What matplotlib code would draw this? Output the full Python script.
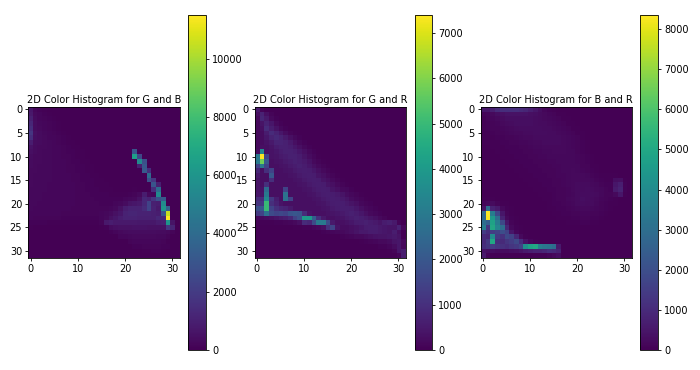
import matplotlib
matplotlib.use("Agg")
import matplotlib.pyplot as plt
import numpy as np

BINS = 32
TITLES = [
    "2D Color Histogram for G and B",
    "2D Color Histogram for G and R",
    "2D Color Histogram for B and R",
]

# diffuse part of each histogram: row -> (first column, counts)
GB_WASH = {
    0: (0, [700, 200, 120, 60]),
    1: (0, [800, 300, 180, 120, 60]),
    2: (0, [1000, 350, 220, 150, 100, 50]),
    3: (0, [1300, 400, 250, 200, 150, 90, 50]),
    4: (0, [1500, 400, 300, 220, 170, 120, 80, 40]),
    5: (0, [1800, 450, 320, 260, 200, 160, 110, 70, 40]),
    6: (0, [1500, 420, 330, 280, 220, 180, 140, 90, 60, 30]),
    7: (0, [900, 380, 320, 280, 240, 200, 160, 120, 80, 50, 30]),
    8: (0, [550, 340, 300, 270, 240, 210, 180, 150, 110, 80, 50, 30]),
    9: (0, [450, 320, 290, 260, 240, 220, 190, 160, 130, 100, 70, 50, 30]),
    10: (0, [400, 300, 280, 260, 240, 220, 200, 170, 140, 110, 80, 60, 40, 30]),
    11: (0, [350, 290, 270, 250, 240, 220, 200, 180, 150, 120, 100, 70, 50, 30]),
    12: (0, [330, 280, 260, 250, 240, 220, 200, 190, 170, 140, 110, 90, 70, 50, 30]),
    13: (0, [300, 270, 260, 250, 230, 220, 210, 190, 170, 150, 130, 100, 80, 60, 40, 30]),
    14: (0, [290, 260, 250, 240, 230, 220, 210, 200, 180, 160, 140, 120, 100, 80, 60, 40, 30]),
    15: (0, [280, 250, 240, 240, 230, 220, 210, 200, 190, 170, 150, 130, 110, 90, 70, 50, 40, 30]),
    16: (0, [270, 250, 240, 230, 220, 220, 210, 200, 190, 180, 160, 140, 120, 100, 80, 70, 50, 40, 30]),
    17: (0, [260, 240, 240, 230, 220, 210, 210, 200, 190, 180, 170, 150, 130, 110, 100, 80, 70, 60, 40, 30, 30, 40, 70]),
    18: (0, [260, 240, 230, 220, 220, 210, 200, 200, 190, 180, 170, 160, 140, 130, 110, 100, 90, 80, 60, 50, 60, 90, 150, 300, 900, 300, 200]),
    19: (0, [250, 230, 230, 220, 210, 210, 200, 200, 190, 180, 170, 160, 150, 140, 130, 120, 110, 100, 90, 120, 200, 250, 300, 500, 1300, 1100, 1800, 700]),
    20: (0, [250, 230, 220, 220, 210, 200, 200, 190, 180, 180, 170, 160, 150, 140, 140, 130, 120, 130, 180, 250, 400, 600, 700, 800, 1300, 2300, 1000, 900]),
    21: (0, [240, 220, 220, 210, 210, 200, 190, 190, 180, 170, 170, 160, 150, 150, 140, 140, 170, 220, 300, 500, 900, 1100, 1100, 1100, 1400, 2300, 1100, 800]),
    22: (0, [220, 210, 200, 200, 190, 190, 180, 170, 160, 160, 150, 150, 150, 140, 150, 180, 250, 350, 500, 700, 1100, 1200, 1200, 1100, 1100, 1100, 1000, 900, 700]),
    23: (0, [180, 170, 170, 160, 150, 150, 140, 130, 130, 120, 120, 120, 120, 120, 130, 180, 300, 500, 700, 900, 1100, 1100, 1100, 1000, 1000, 1000, 1000, 1300, 1300]),
    24: (0, [100, 100, 90, 90, 80, 80, 70, 70, 60, 60, 60, 60, 60, 60, 80, 150, 800, 900, 800, 800, 800, 800, 800, 750, 750, 750, 750, 900, 1000, 0, 600]),
    25: (0, [50, 40, 40, 30, 30, 30, 30, 30, 30, 30, 30, 30, 30, 30, 40, 80, 120, 400, 450, 500, 500, 500, 550, 550, 550, 500, 500, 500, 500, 1300, 500]),
    26: (17, [120, 200, 300, 350, 400, 400, 400, 400, 400, 380, 350, 350, 300, 150]),
    27: (19, [180, 220, 260, 280, 300, 300, 300, 280, 260, 240, 150]),
    28: (21, [150, 180, 200, 220, 220, 220, 200, 150, 80]),
    29: (22, [100, 120, 140, 160, 160, 140, 120, 100]),
    30: (24, [60, 80, 100, 100, 80]),
}
GB_HOT_ROWS = [9, 10, 10, 11, 11, 12, 12, 13, 13, 14, 15, 15, 16, 16, 17, 17, 18, 19, 19, 20, 21, 22, 21, 22, 23, 24, 25, 25]
GB_HOT_COLS = [22, 22, 23, 23, 24, 24, 23, 24, 25, 25, 25, 26, 26, 27, 26, 27, 27, 27, 28, 28, 28, 28, 29, 29, 29, 29, 29, 30]
GB_HOT_VALUES = [3000, 6500, 2500, 5500, 2800, 3100, 1000, 3200, 1500, 4000, 2800, 1800, 3000, 1000, 1500, 4000, 5500, 2800, 3200, 5500, 6000, 3000, 3500, 10500, 11500, 6000, 1800, 1200]

GR_WASH = {
    0: (0, [500, 100]),
    1: (0, [300, 700, 300, 100]),
    2: (0, [200, 800, 500, 200, 80]),
    3: (0, [150, 400, 700, 450, 200, 80]),
    4: (0, [150, 300, 900, 600, 350, 150, 60]),
    5: (0, [150, 250, 550, 900, 700, 450, 250, 100, 50]),
    6: (0, [150, 250, 450, 700, 850, 700, 500, 300, 150, 60]),
    7: (0, [200, 250, 350, 500, 750, 750, 650, 500, 300, 150, 60]),
    8: (0, [200, 300, 300, 400, 550, 650, 650, 600, 450, 300, 150, 60]),
    9: (0, [250, 300, 300, 350, 450, 550, 650, 650, 600, 450, 300, 150, 60]),
    10: (0, [300, 300, 300, 350, 400, 500, 550, 650, 650, 550, 400, 250, 120, 50]),
    11: (0, [350, 300, 300, 300, 350, 400, 500, 550, 650, 600, 500, 350, 200, 100, 50]),
    12: (0, [350, 300, 300, 300, 300, 350, 400, 500, 550, 650, 550, 450, 300, 200, 100, 50]),
    13: (0, [400, 300, 300, 300, 300, 300, 350, 400, 500, 550, 600, 550, 450, 300, 200, 100, 50]),
    14: (0, [500, 300, 300, 300, 300, 300, 300, 350, 400, 500, 550, 600, 550, 400, 300, 200, 100, 50]),
    15: (0, [400, 300, 300, 300, 300, 300, 300, 300, 350, 400, 500, 550, 600, 550, 400, 300, 200, 100, 50]),
    16: (0, [400, 300, 300, 300, 300, 300, 300, 300, 300, 350, 400, 500, 550, 600, 550, 400, 300, 200, 100, 50]),
    17: (0, [400, 350, 300, 300, 300, 300, 300, 300, 300, 300, 350, 400, 500, 550, 600, 550, 400, 300, 200, 150, 60]),
    18: (0, [450, 400, 350, 300, 300, 300, 300, 300, 300, 300, 300, 350, 400, 500, 550, 600, 550, 500, 400, 250, 150, 100, 50]),
    19: (0, [900, 900, 400, 1200, 600, 300, 300, 300, 300, 300, 300, 300, 350, 400, 500, 550, 600, 550, 500, 400, 250, 150, 100, 50]),
    20: (0, [1100, 1200, 500, 1000, 700, 400, 300, 300, 300, 300, 300, 300, 300, 350, 400, 500, 550, 600, 600, 500, 400, 300, 150, 100, 60]),
    21: (0, [1800, 2000, 600, 1500, 1000, 800, 700, 500, 300, 300, 300, 300, 300, 300, 350, 400, 500, 550, 600, 600, 550, 450, 300, 200, 120, 70]),
    22: (0, [1300, 1500, 2700, 1700, 1500, 1600, 1500, 1900, 2000, 1900, 900, 400, 300, 300, 300, 350, 400, 450, 500, 600, 650, 550, 450, 300, 200, 120, 70]),
    23: (0, [150, 200, 250, 300, 400, 500, 600, 800, 1400, 1800, 4000, 4000, 2200, 1000, 500, 300, 300, 350, 400, 500, 550, 650, 600, 500, 400, 300, 200, 100]),
    24: (0, [30, 30, 40, 50, 60, 80, 100, 120, 200, 300, 900, 800, 1700, 3000, 3000, 1600, 500, 300, 300, 350, 450, 550, 600, 650, 550, 500, 400, 550, 650, 500, 100]),
    25: (8, [40, 50, 60, 80, 120, 200, 300, 1000, 1500, 400, 250, 250, 300, 350, 450, 550, 600, 600, 500, 450, 400, 400, 700, 200]),
    26: (14, [80, 100, 120, 150, 200, 250, 300, 400, 500, 500, 550, 550, 500, 450, 400, 600, 300]),
    27: (18, [70, 100, 120, 180, 200, 250, 300, 350, 400, 400, 450, 500, 400]),
    28: (22, [50, 80, 100, 120, 180, 200, 250, 400, 450, 200]),
    29: (26, [60, 80, 120, 250, 450, 150]),
    30: (28, [50, 100, 450, 600]),
    31: (30, [100, 600]),
}
GR_HOT_ROWS = [9, 10, 10, 10, 11, 11, 11, 12, 12, 12, 13, 13, 13, 14, 15, 16, 17, 18, 19, 20, 21, 17, 18, 19, 19]
GR_HOT_COLS = [1, 0, 1, 2, 0, 1, 2, 0, 1, 2, 3, 2, 0, 3, 3, 2, 2, 2, 2, 2, 2, 6, 6, 6, 7]
GR_HOT_VALUES = [3500, 3000, 7400, 1500, 3000, 5800, 2000, 1500, 3000, 1500, 1500, 1000, 800, 2000, 1000, 1000, 2600, 3000, 3500, 5000, 5000, 1500, 2800, 2800, 1500]

BR_WASH = {
    0: (0, [500, 500, 700, 1000, 1100, 1100, 1100, 1100, 1000, 900, 700, 500, 300, 150, 80, 50]),
    1: (0, [120, 150, 200, 300, 350, 400, 400, 400, 400, 400, 350, 300, 250, 200, 150, 100, 60, 40]),
    2: (0, [60, 100, 150, 200, 250, 300, 320, 320, 320, 320, 300, 280, 250, 220, 180, 140, 100, 60, 40]),
    3: (0, [60, 80, 120, 150, 200, 250, 280, 300, 300, 300, 300, 280, 260, 240, 220, 180, 140, 100, 60, 40]),
    4: (0, [50, 70, 100, 120, 150, 180, 220, 250, 270, 280, 280, 280, 270, 260, 240, 220, 180, 140, 100, 60, 40]),
    5: (0, [50, 60, 80, 100, 120, 150, 180, 200, 220, 240, 260, 270, 270, 270, 260, 240, 220, 180, 140, 100, 60, 40]),
    6: (0, [40, 50, 60, 70, 90, 110, 130, 150, 170, 200, 220, 240, 250, 260, 260, 250, 240, 220, 180, 140, 100, 60]),
    7: (0, [40, 40, 50, 60, 70, 80, 100, 120, 140, 160, 180, 200, 220, 230, 240, 240, 230, 220, 190, 150, 110, 70, 40]),
    8: (0, [30, 30, 40, 50, 60, 70, 80, 90, 110, 130, 150, 170, 190, 200, 210, 220, 220, 210, 190, 160, 120, 80, 50]),
    9: (0, [30, 30, 30, 40, 50, 60, 70, 80, 90, 100, 120, 140, 160, 180, 190, 200, 200, 200, 190, 170, 130, 90, 60]),
    10: (0, [30, 30, 30, 30, 40, 50, 60, 70, 80, 90, 100, 120, 140, 150, 170, 180, 190, 190, 190, 170, 140, 100, 70, 40]),
    11: (3, [30, 30, 40, 50, 60, 70, 80, 90, 100, 120, 130, 150, 160, 170, 180, 190, 180, 150, 120, 80, 50]),
    12: (5, [30, 40, 50, 60, 70, 80, 90, 100, 120, 130, 140, 160, 170, 180, 190, 170, 130, 100, 60, 40]),
    13: (7, [40, 50, 60, 70, 80, 90, 100, 120, 130, 150, 170, 190, 200, 190, 150, 110, 70, 50]),
    14: (8, [40, 50, 60, 70, 80, 90, 100, 120, 140, 160, 180, 200, 210, 200, 170, 120, 80, 50, 40, 40, 60]),
    15: (9, [40, 50, 60, 70, 80, 90, 110, 130, 150, 170, 200, 220, 220, 200, 170, 120, 80, 60, 50, 300, 350, 60]),
    16: (10, [40, 50, 60, 70, 80, 100, 120, 140, 170, 200, 230, 250, 240, 210, 170, 120, 90, 70, 500, 700, 80]),
    17: (10, [30, 40, 50, 60, 70, 90, 110, 130, 160, 200, 230, 260, 270, 250, 210, 170, 120, 90, 600, 800, 80]),
    18: (10, [30, 30, 40, 50, 60, 80, 100, 120, 150, 190, 230, 270, 280, 270, 230, 180, 130, 100, 200, 500, 60]),
    19: (0, [60, 50, 40, 30, 30, 30, 30, 30, 30, 30, 30, 30, 30, 40, 60, 80, 100, 130, 170, 220, 260, 300, 290, 250, 200, 150, 110, 70, 50]),
    20: (0, [150, 200, 250, 120, 60, 40, 30, 30, 30, 30, 30, 30, 30, 30, 50, 70, 90, 110, 150, 190, 230, 270, 260, 230, 180, 130, 90, 60, 40]),
    21: (0, [400, 700, 800, 600, 200, 80, 40, 30, 30, 30, 30, 30, 30, 30, 40, 60, 70, 90, 120, 150, 180, 200, 200, 170, 140, 100, 70, 50]),
    22: (0, [2800, 8350, 3500, 1800, 500, 120, 60, 30, 30, 30, 30, 30, 30, 30, 30, 40, 50, 70, 90, 110, 130, 150, 150, 130, 100, 80, 50]),
    23: (0, [2800, 8300, 4500, 3000, 800, 200, 80, 40, 30, 30, 30, 30, 30, 30, 30, 30, 40, 50, 60, 70, 90, 100, 100, 90, 70, 50]),
    24: (0, [3000, 2500, 4800, 3500, 1800, 500, 120, 60, 30, 30, 30, 30, 30, 30, 30, 30, 30, 30, 40, 50, 60, 70, 70, 60, 50]),
    25: (0, [3500, 1300, 5000, 3800, 3000, 900, 200, 80, 40, 30]),
    26: (0, [1500, 1100, 1500, 1600, 2000, 1600, 500, 150, 60, 30]),
    27: (0, [1000, 900, 4000, 1400, 1200, 1800, 1600, 900, 200, 60, 30]),
    28: (0, [1000, 1400, 5000, 1100, 1000, 1300, 1500, 1800, 1100, 400, 150, 60]),
    29: (0, [1100, 1300, 1500, 1300, 1200, 1100, 1300, 1400, 1700, 4200, 4800, 5000, 3600, 3300, 3200, 3000, 600]),
    30: (0, [400, 300, 300, 250, 250, 250, 300, 350, 450, 600, 700, 800, 800, 900, 1100, 1000, 800]),
    31: (0, [600, 100, 60, 40, 30, 30, 30, 30, 30, 30, 30, 40, 50, 60, 100, 200, 300]),
}
BR_HOT_ROWS = [21]
BR_HOT_COLS = [1]
BR_HOT_VALUES = [3000]


def build_hist(wash, hot_rows, hot_cols, hot_values):
    hist = np.zeros((BINS, BINS))
    for row, (start, counts) in wash.items():
        hist[row, start:start + len(counts)] = counts
    hist[hot_rows, hot_cols] = hot_values
    return hist


def main():
    hists = [
        build_hist(GB_WASH, GB_HOT_ROWS, GB_HOT_COLS, GB_HOT_VALUES),
        build_hist(GR_WASH, GR_HOT_ROWS, GR_HOT_COLS, GR_HOT_VALUES),
        build_hist(BR_WASH, BR_HOT_ROWS, BR_HOT_COLS, BR_HOT_VALUES),
    ]

    fig = plt.figure(figsize=(7, 3.7), dpi=100)

    # pixel boxes measured on the reference: image left/right, colorbar left/right
    boxes = [(28, 180, 188, 206), (254, 406, 415, 432), (480, 632, 640, 658)]
    for title, hist, (left, right, cb_left, cb_right) in zip(TITLES, hists, boxes):
        ax = fig.add_axes([left / 700, (370 - 258) / 370, (right - left) / 700, 151 / 370])
        im = ax.imshow(hist, interpolation="nearest", cmap="viridis")
        ax.set_title(title, fontsize=7.0, pad=3)
        ax.tick_params(labelsize=7, length=2.5, width=0.6, pad=2)
        for spine in ax.spines.values():
            spine.set_linewidth(0.6)

        cax = fig.add_axes([cb_left / 700, (370 - 350) / 370, (cb_right - cb_left) / 700, 335 / 370])
        cbar = fig.colorbar(im, cax=cax)
        cbar.ax.tick_params(labelsize=7, length=2.5, width=0.6, pad=2)
        cbar.outline.set_linewidth(0.6)

    fig.savefig("out.png", dpi=100)
    plt.close(fig)


if __name__ == "__main__":
    main()
